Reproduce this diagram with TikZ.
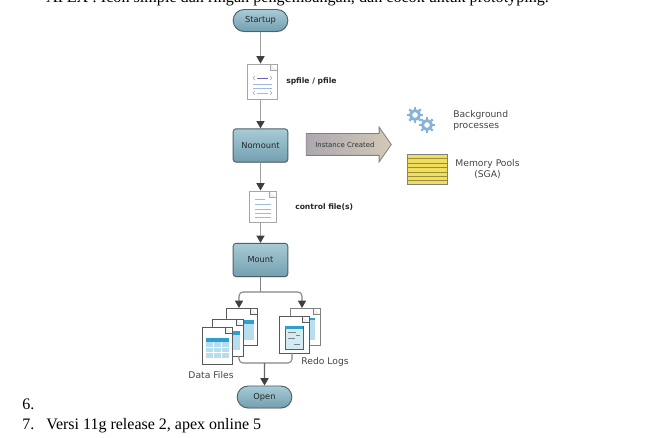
\documentclass[tikz,border=0pt]{standalone}
\usepackage{fontspec}
\setmainfont{Liberation Serif}
\setsansfont{DejaVu Sans}
\usetikzlibrary{arrows.meta, positioning, shapes.misc, shapes.arrows, shadows}

\definecolor{btnTop}{HTML}{A8CBD6}
\definecolor{btnBot}{HTML}{739FB0}
\definecolor{btnEdge}{HTML}{4E6168}
\definecolor{wireGray}{HTML}{A0A0A0}
\definecolor{thinGray}{HTML}{858585}
\definecolor{tipDark}{HTML}{3F3F3F}
\definecolor{labelGray}{HTML}{444444}
\definecolor{lineBlue}{HTML}{9DBBDD}
\definecolor{gearBlue}{HTML}{86B4D8}
\definecolor{headBlue}{HTML}{2F9FD0}
\definecolor{cellBlue}{HTML}{B7DDEF}
\definecolor{poolYellow}{HTML}{F1DE5E}
\definecolor{poolLine}{HTML}{9A8E3A}
\definecolor{arrowLeft}{HTML}{ADA8B0}
\definecolor{arrowRight}{HTML}{D2C9B6}

\tikzset{
  btnshade/.style={draw=btnEdge, line width=0.7pt, top color=btnTop, bottom color=btnBot,
    drop shadow={shadow xshift=0.2pt, shadow yshift=-0.6pt, opacity=0.3},
    font=\sffamily\fontsize{6.2}{7}\selectfont, text=black!85, inner sep=0pt},
  stepbtn/.style={btnshade, rectangle, rounded corners=2.2pt, minimum width=41pt, minimum height=25pt},
  endbtn/.style={btnshade, rounded rectangle, minimum width=41pt, minimum height=16.5pt},
  wire/.style={draw=wireGray, line width=1.1pt, -{Triangle[color=tipDark, length=5.5pt, width=6pt]}},
  thinwire/.style={draw=thinGray, line width=0.8pt, rounded corners=3pt},
  boldtag/.style={font=\sffamily\bfseries\fontsize{5.7}{6.5}\selectfont, text=black!85, anchor=west, inner sep=0pt},
  graytag/.style={font=\sffamily\fontsize{6.9}{8.2}\selectfont, text=labelGray, align=center, inner sep=0pt},
  pagetext/.style={font=\fontsize{12}{14}\selectfont, text=black, anchor=base west, inner sep=0pt},
  docsheet/.style={chamfered rectangle, chamfered rectangle corners=north east,
    chamfered rectangle xsep=5pt, chamfered rectangle ysep=5pt, fill=white, inner sep=0pt},
}

% name, centre x, centre y, width, height, edge colour
\newcommand{\docfile}[6]{
  \node[docsheet, draw=#6, line width=0.7pt, minimum width=#4*0.75pt, minimum height=#5*0.75pt] (#1) at (#2,#3) {};
  \draw[draw=#6, line width=0.5pt, fill=black!6] ({#2+#4/2-6.7},{#3-#5/2}) |- ({#2+#4/2},{#3-#5/2+6.7});
}
% centre x, centre y
\newcommand{\gearicon}[2]{
  \draw[gearBlue, line width=2.2pt] (#1,#2) circle (4.5);
  \foreach \ang in {0,45,...,315}
    \draw[gearBlue, line width=1.8pt] (#1,#2) ++(\ang:5.5) -- ++(\ang:2.6);
}
% left, top, right, bottom, header height
\newcommand{\tablecells}[5]{
  \fill[cellBlue] (#1,#2) rectangle (#3,#4);
  \fill[headBlue] (#1,#2) rectangle (#3,#2+#5);
}

\begin{document}
\begin{tikzpicture}[x=0.75pt, y=-0.75pt]
  \useasboundingbox (0,0) rectangle (658,438);
  \fill[white] (0,0) rectangle (658,438);

  % Page text around the figure
  \begin{scope}
    \clip (0,0) rectangle (658,438);
    \node[pagetext, font=\fontsize{12.1}{14}\selectfont] (topline) at (46,3) {APEX : Icon simple dan ringan pengembangan, dan cocok untuk prototyping.};
  \end{scope}
  \node[pagetext] (itemsix) at (22,410) {6.};
  \node[pagetext] (itemseven) at (22,430) {7.};
  \node[pagetext] (itemtext) at (46,430) {Versi 11g release 2, apex online 5};

  % Draw the main steps
  \node[endbtn] (startup) at (260.5,20.5) {Startup};
  \node[stepbtn] (nomount) at (260.5,145.5) {Nomount};
  \node[stepbtn] (mount) at (260.5,260) {Mount};
  \node[endbtn] (open) at (264.5,397) {Open};

  % Draw the parameter file
  \docfile{spfile}{262}{81.5}{30}{35}{black!35}
  \draw[black!35, line width=0.4pt] (255,76) -- (253,78) -- (255,80) (270,76) -- (272,78) -- (270,80)
    (255,91) -- (253,93) -- (255,95) (270,91) -- (272,93) -- (270,95);
  \draw[lineBlue, line width=0.6pt] (253,84) -- (272,84) (253,88) -- (272,88) (257,93) -- (268,93);
  \draw[blue!50!black!60, line width=0.6pt] (257,78) -- (268,78);
  \node[boldtag] (spfiletag) at (286,81) {spfile / pfile};

  % Draw the control file
  \docfile{ctlfile}{262.5}{206.5}{27}{31}{black!35}
  \draw[lineBlue, line width=0.6pt] (255,199) -- (265,199) (255,204) -- (271,204) (255,209) -- (271,209)
    (255,213) -- (271,213) (255,217) -- (271,217);
  \node[boldtag] (ctlfiletag) at (295,207) {control file(s)};

  % Draw the instance arrow and what it creates
  \node[single arrow, draw=black!50, line width=0.6pt, left color=arrowLeft, right color=arrowRight,
    minimum height=63.75pt, minimum width=25.5pt, single arrow head extend=4.875pt, single arrow tip angle=110,
    inner sep=0pt, text height=9.8pt, text depth=5.95pt,
    font=\sffamily\fontsize{5.2}{6}\selectfont, text=black!80] (instance) at (345,144.5) {Instance Created};

  \gearicon{415}{115}
  \gearicon{427}{125}
  \node[graytag, anchor=west, align=left] (bgtag) at (453,120) {Background\\processes};

  \node[draw=black!50, fill=poolYellow, line width=0.6pt, minimum width=30pt, minimum height=22.5pt, inner sep=0pt] (pools) at (427,169) {};
  \foreach \ypos in {158,163,167,172,176,180}
    \draw[poolLine, line width=0.5pt] (407,\ypos) -- (447,\ypos);
  \node[graytag] (poolstag) at (487.5,169.5) {Memory Pools\\(SGA)};

  % Draw the data files, back to front
  \docfile{databack}{241.5}{326.5}{31}{37}{black!65}
  \tablecells{243}{320}{254}{340}{4}
  \docfile{datamid}{227.5}{337.5}{31}{37}{black!65}
  \tablecells{232}{331}{240}{350}{4}
  \docfile{datafront}{217}{345.5}{30}{37}{black!65}
  \tablecells{206}{338}{229}{358}{4}
  \foreach \xpos in {213.5,221} \draw[white, line width=0.4pt] (\xpos,342) -- (\xpos,358);
  \foreach \ypos in {347,352.5} \draw[white, line width=0.4pt] (206,\ypos) -- (229,\ypos);
  \node[graytag] (datatag) at (211,375) {Data Files};

  % Draw the redo logs, back to front
  \docfile{redoback}{305}{326.5}{30}{37}{black!50}
  \tablecells{309}{318}{315}{340}{2}
  \docfile{redofront}{294}{334.5}{30}{37}{black!65}
  \draw[headBlue!70!black, line width=0.4pt, fill=cellBlue!60] (285,326) rectangle (303,349);
  \fill[headBlue] (285,326) rectangle (303,329);
  \draw[black!50, line width=0.5pt] (288,332) -- (296,332) (296,335) -- (300,335) (288,338) -- (295,338) (294,344) -- (300,344);
  \node[graytag] (redotag) at (325,362) {Redo Logs};

  % Draw the wires down the middle
  \draw[wire] (startup.south) -- (startup.south |- spfile.north);
  \draw[wire] (startup.south |- spfile.south) -- (nomount.north);
  \draw[wire] (nomount.south) -- (nomount.south |- ctlfile.north);
  \draw[wire] (nomount.south |- ctlfile.south) -- (mount.north);

  % Draw the split below mount
  \coordinate (split) at (260.5,292);
  \coordinate (datain) at (239,308);
  \coordinate (redoin) at (302,308);
  \draw[thinwire] (mount.south) -- (split);
  \draw[thinwire, -{Triangle[color=tipDark, length=5.5pt, width=6pt]}] (split) -| (datain);
  \draw[thinwire, -{Triangle[color=tipDark, length=5.5pt, width=6pt]}] (split) -| (redoin);

  % Draw the join above open
  \coordinate (dataout) at (239,356);
  \coordinate (redoout) at (292,353);
  \coordinate (joinpt) at (264.5,363);
  \draw[thinwire] (dataout) |- (joinpt);
  \draw[thinwire] (redoout) |- (joinpt);
  \draw[wire, draw=black!60] (joinpt) -- (open);
\end{tikzpicture}
\end{document}
